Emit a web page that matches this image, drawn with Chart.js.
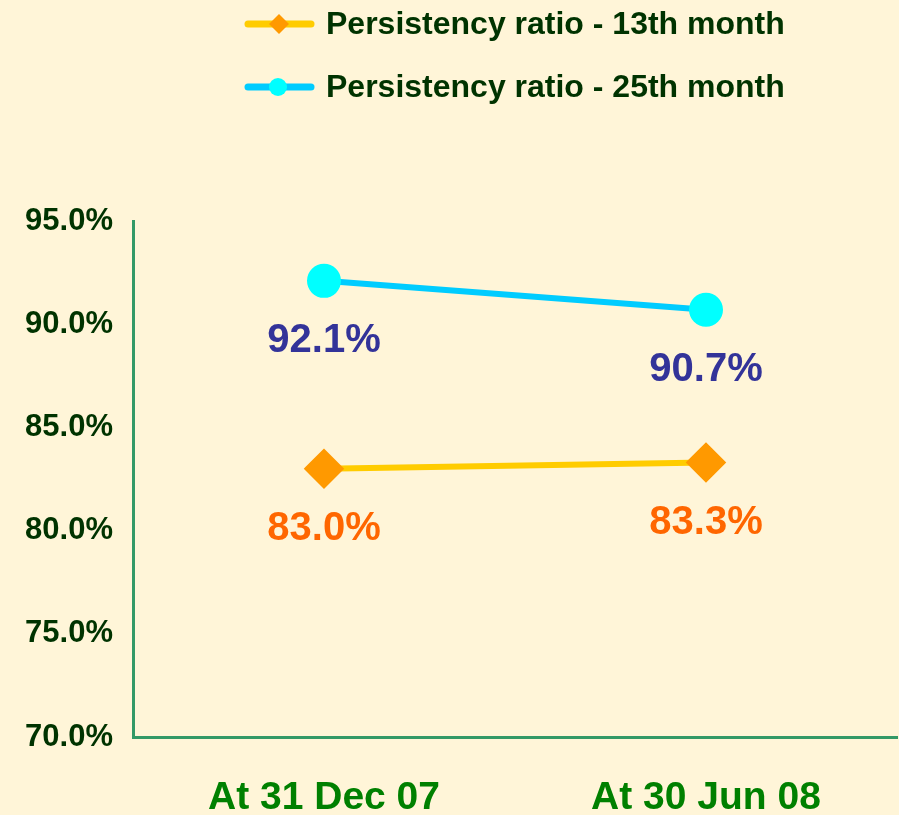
<!DOCTYPE html>
<html><head><meta charset="utf-8">
<script src="https://cdn.jsdelivr.net/npm/chart.js@4/dist/chart.umd.min.js"></script>
<style>html,body{margin:0;padding:0;background:#fff5d8;}#wrap{width:899px;height:815px;position:relative;}</style>
</head><body><div id="wrap"><canvas id="c" width="899" height="815"></canvas></div>
<script>
const categories = ["At 31 Dec 07", "At 30 Jun 08"];
const seriesNames = ["Persistency ratio - 13th month", "Persistency ratio - 25th month"];
const ratio13 = [83.0, 83.3];
const ratio25 = [92.1, 90.7];
const yTicks = [70, 75, 80, 85, 90, 95];

const FONT = "'Liberation Sans', Arial, sans-serif";

const legendPlugin = {
  id: 'customLegend',
  afterDraw(chart) {
    const ctx = chart.ctx;
    const rows = [24, 87];
    chart.data.datasets.forEach((ds, i) => {
      const y = rows[i];
      ctx.save();
      ctx.strokeStyle = ds.borderColor; ctx.lineWidth = 7; ctx.lineCap = 'round';
      ctx.beginPath(); ctx.moveTo(248, y); ctx.lineTo(311, y); ctx.stroke();
      ctx.fillStyle = ds.pointBackgroundColor;
      ctx.beginPath();
      if (ds.pointStyle === 'rectRot') {
        const r = 10;
        ctx.moveTo(279 - r, y); ctx.lineTo(279, y - r); ctx.lineTo(279 + r, y); ctx.lineTo(279, y + r); ctx.closePath();
      } else {
        ctx.arc(278, y, 9, 0, Math.PI * 2);
      }
      ctx.fill();
      ctx.fillStyle = '#003300'; ctx.font = "bold 32px " + FONT;
      ctx.textBaseline = 'middle'; ctx.textAlign = 'left';
      ctx.fillText(ds.label, 326, y + 1);
      ctx.restore();
    });
  }
};

const labelPlugin = {
  id: 'valueLabels',
  afterDatasetsDraw(chart) {
    const ctx = chart.ctx;
    chart.data.datasets.forEach((ds, i) => {
      const meta = chart.getDatasetMeta(i);
      meta.data.forEach((pt, j) => {
        ctx.save();
        ctx.fillStyle = ds.labelColor; ctx.font = "bold 40px " + FONT;
        ctx.textAlign = 'center'; ctx.textBaseline = 'middle';
        ctx.fillText(ds.data[j].toFixed(1) + '%', pt.x, pt.y + 60);
        ctx.restore();
      });
    });
  }
};

const bgPlugin = {
  id: 'bg',
  beforeDraw(chart) {
    const ctx = chart.ctx; ctx.save(); ctx.fillStyle = '#fff5d8';
    ctx.fillRect(0, 0, chart.width, chart.height); ctx.restore();
  }
};

new Chart(document.getElementById('c'), {
  type: 'line',
  data: {
    labels: categories,
    datasets: [
      { label: seriesNames[0], data: ratio13, borderColor: '#ffcc00', backgroundColor: '#ff9900',
        pointBackgroundColor: '#ff9900', pointBorderColor: '#ff9900', pointStyle: 'rectRot',
        pointRadius: 16, borderWidth: 6, labelColor: '#ff6600' },
      { label: seriesNames[1], data: ratio25, borderColor: '#00ccff', backgroundColor: '#00ffff',
        pointBackgroundColor: '#00ffff', pointBorderColor: '#00ffff', pointStyle: 'circle',
        pointRadius: 14, borderWidth: 6, labelColor: '#333399' }
    ]
  },
  options: {
    responsive: false, animation: false, devicePixelRatio: 1,
    layout: { autoPadding: false, padding: { top: 221, right: 2, left: 0, bottom: 0 } },
    plugins: { legend: { display: false }, tooltip: { enabled: false } },
    scales: {
      x: {
        offset: true,
        grid: { display: false, drawTicks: false },
        border: { color: '#339966', width: 3 },
        ticks: { color: '#008000', font: { family: FONT, size: 39, weight: 'bold' }, padding: 38 },
        afterFit(s) { s.height = 78; s.paddingRight = 0; s.paddingLeft = 0; }
      },
      y: {
        min: 70, max: 95,
        afterBuildTicks(s) { s.ticks = yTicks.map(v => ({ value: v })); },
        grid: { display: false, drawTicks: false },
        border: { color: '#339966', width: 3 },
        ticks: { color: '#003300', font: { family: FONT, size: 31, weight: 'bold' }, padding: 20,
          callback: v => Number(v).toFixed(1) + '%' },
        afterFit(s) { s.width = 133; }
      }
    }
  },
  plugins: [bgPlugin, legendPlugin, labelPlugin]
});
</script></body></html>
